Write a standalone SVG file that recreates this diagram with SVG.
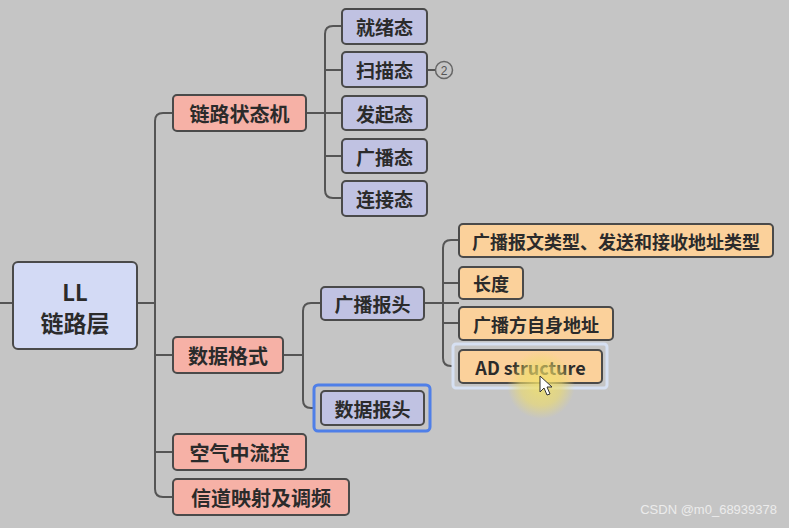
<svg xmlns="http://www.w3.org/2000/svg" width="789" height="528" viewBox="0 0 789 528">
<defs>
<style>
.t{font-family:"Noto Sans CJK SC","Noto Sans",sans-serif;font-weight:bold;fill:#2b2b2b;text-anchor:middle;dominant-baseline:central}
.n rect{stroke:#4a4a4a;stroke-width:2}
.root rect{fill:#d3daf5}
.l1 rect{fill:#f6b1a6}
.l2 rect{fill:#c0c2e2}
.l3 rect{fill:#fbd19b}
.n rect.sel{fill:none;stroke:#4f7fe8;stroke-width:3}
.n rect.hov{fill:none;stroke:#d6e0f2;stroke-width:3}
.c{fill:none;stroke:#555;stroke-width:2}
</style>
<radialGradient id="glow"><stop offset="0" stop-color="#f2e26a" stop-opacity="0.85"/><stop offset="0.6" stop-color="#eedc6a" stop-opacity="0.6"/><stop offset="1" stop-color="#eedc6a" stop-opacity="0"/></radialGradient>
</defs>
<rect width="789" height="528" fill="#c5c5c5"/>
<g id="connectors">
<path class="c" d="M0 303H13M137 303H155"/>
<path class="c" d="M173 113H163Q155 113 155 121V489Q155 497 163 497H173M155 355H173M155 452H173"/>
<path class="c" d="M306 113H342M342 26H333Q325 26 325 34V190Q325 198 333 198H342M325 70H342M325 156H342"/>
<path class="c" d="M427 70H435"/>
<path class="c" d="M283 355H303M321 303H311Q303 303 303 311V400Q303 408 311 408H314"/>
<path class="c" d="M424 303H459M459 240H451Q443 240 443 248V358Q443 366 451 366H453"/>
<path class="c" d="M443 283H459M443 323H459"/>
</g>
<g id="root" class="n root"><rect x="13" y="262" width="124" height="87" rx="5"/><text class="t" x="75" y="291" font-size="22">LL</text><text class="t" x="75" y="322" font-size="23">链路层</text></g>
<g id="n-fsm" class="n l1"><rect x="173" y="95" width="133" height="36" rx="4"/><text class="t" x="239.5" y="113" font-size="20">链路状态机</text></g>
<g id="n-fmt" class="n l1"><rect x="173" y="337" width="110" height="36" rx="4"/><text class="t" x="228" y="355" font-size="20">数据格式</text></g>
<g id="n-flow" class="n l1"><rect x="173" y="434" width="133" height="36" rx="4"/><text class="t" x="239.5" y="452" font-size="20">空气中流控</text></g>
<g id="n-chan" class="n l1"><rect x="173" y="479" width="176" height="36" rx="4"/><text class="t" x="261" y="497" font-size="20">信道映射及调频</text></g>
<g id="n-ready" class="n l2"><rect x="342" y="9" width="85" height="35" rx="4"/><text class="t" x="384.5" y="26.5" font-size="19">就绪态</text></g>
<g id="n-scan" class="n l2"><rect x="342" y="52" width="85" height="35" rx="4"/><text class="t" x="384.5" y="69.5" font-size="19">扫描态</text></g>
<g id="badge"><circle cx="444" cy="70" r="8.5" fill="none" stroke="#666" stroke-width="1.5"/><text x="444" y="70.5" font-family="Liberation Sans,sans-serif" font-size="12" fill="#555" text-anchor="middle" dominant-baseline="central">2</text></g>
<g id="n-init" class="n l2"><rect x="342" y="96" width="85" height="34" rx="4"/><text class="t" x="384.5" y="113" font-size="19">发起态</text></g>
<g id="n-adv" class="n l2"><rect x="342" y="139" width="85" height="34" rx="4"/><text class="t" x="384.5" y="156" font-size="19">广播态</text></g>
<g id="n-conn" class="n l2"><rect x="342" y="181" width="85" height="35" rx="4"/><text class="t" x="384.5" y="198.5" font-size="19">连接态</text></g>
<g id="n-advhdr" class="n l2"><rect x="321" y="287" width="103" height="33" rx="4"/><text class="t" x="372.5" y="303.5" font-size="19">广播报头</text></g>
<g id="n-datahdr" class="n l2"><rect class="sel" x="314" y="385" width="116" height="46" rx="4"/><rect x="321" y="391" width="103" height="34" rx="4"/><text class="t" x="372.5" y="408" font-size="19">数据报头</text></g>
<g id="n-type" class="n l3"><rect x="459" y="224" width="314" height="33" rx="4"/><text class="t" x="616" y="240.5" font-size="18">广播报文类型、发送和接收地址类型</text></g>
<g id="n-len" class="n l3"><rect x="459" y="267" width="64" height="32" rx="4"/><text class="t" x="491" y="283" font-size="18">长度</text></g>
<g id="n-addr" class="n l3"><rect x="459" y="307" width="154" height="33" rx="4"/><text class="t" x="536" y="323.5" font-size="18">广播方自身地址</text></g>
<g id="n-ad" class="n l3"><rect class="hov" x="453" y="344" width="154" height="44" rx="3"/><rect x="459" y="350" width="143" height="33" rx="4"/><text class="t" x="530.5" y="366.5" font-size="18">AD structure</text></g>
<circle cx="541" cy="385" r="34" fill="url(#glow)"/>
<path d="M540 376V392L544 388L547 395L550 394L547 387L552 387Z" fill="#fff" stroke="#333" stroke-width="1"/>
<text x="777" y="514" font-family="Liberation Sans,sans-serif" font-size="13" fill="#ececec" text-anchor="end">CSDN @m0_68939378</text>
</svg>
